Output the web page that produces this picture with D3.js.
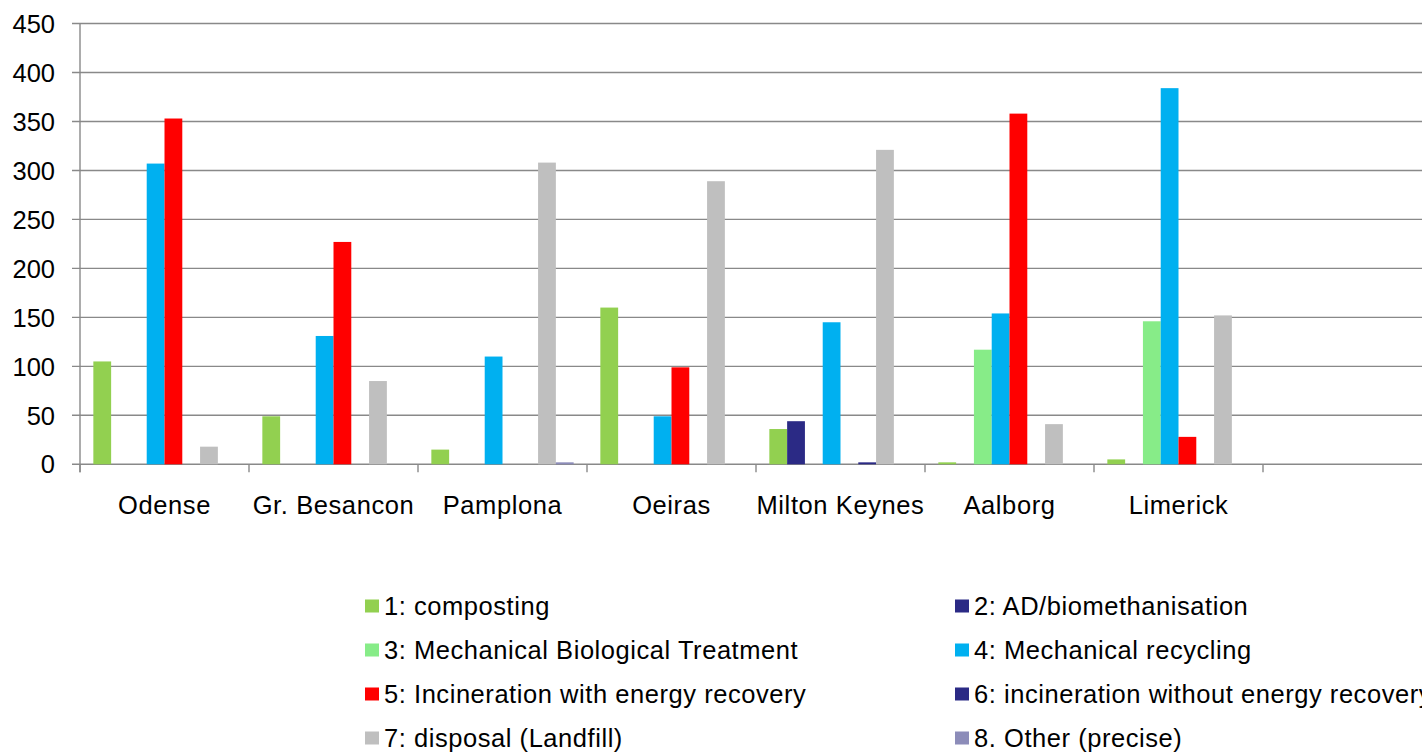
<!DOCTYPE html>
<html><head><meta charset="utf-8">
<script src="https://cdn.jsdelivr.net/npm/d3@7"></script>
<style>
html,body{margin:0;padding:0;background:#fff;overflow:hidden;}
text{font-family:"Liberation Sans",Arial,sans-serif;fill:#000;}
</style></head>
<body><svg id="c" width="1422" height="752"></svg>
<script>
const categories = ["Odense","Gr. Besancon","Pamplona","Oeiras","Milton Keynes","Aalborg","Limerick",""];
const seriesNames = ["1: composting","2: AD/biomethanisation","3: Mechanical Biological Treatment","4: Mechanical recycling","5: Incineration with energy recovery","6: incineration without energy recovery","7: disposal (Landfill)","8. Other (precise)"];
const seriesColors = ["#92D050","#2B2A85","#87EC88","#00B0F0","#FF0000","#2B2A85","#BFBFBF","#8C8CB9"];
const composting   = [105, 49, 15, 160, 36,   2,   5, 0];
const adBiometh    = [0,   0,  0,  0,   44,   0,   0, 0];
const mbt          = [0,   0,  0,  0,   0,  117, 146, 0];
const mechRecyc    = [307, 131, 110, 49, 145, 154, 384, 0];
const incinEnergy  = [353, 227, 0,  99,  0,  358,  28, 0];
const incinNoEnergy= [0,   0,  0,  0,   2,    0,   0, 0];
const landfill     = [18,  85, 308, 289, 321, 41, 152, 0];
const other        = [0,   0,  2,  0,   0,    0,   0, 0];
const yTicks = [0,50,100,150,200,250,300,350,400,450];

const seriesValues = [composting, adBiometh, mbt, mechRecyc, incinEnergy, incinNoEnergy, landfill, other];

(function(){
const svg = d3.select("#c");
const pL = 80, pR = 1432, pT = 23.5, pB = 464.3;
const x = d3.scaleBand().domain(categories.map((c,i)=>i)).range([pL,pR]).padding(0);
const xs = d3.scaleBand().domain(d3.range(seriesNames.length)).range([0,x.bandwidth()]).paddingInner(0).paddingOuter(0.75);
const y = d3.scaleLinear().domain([0,450]).range([pB,pT]);

svg.append("g").selectAll("line").data(yTicks).join("line")
  .attr("x1",pL-8).attr("x2",pR).attr("y1",d=>y(d)).attr("y2",d=>y(d))
  .attr("stroke","#898989").attr("stroke-width",1.4);

svg.append("line").attr("x1",pL).attr("x2",pL).attr("y1",pT).attr("y2",pB+8)
  .attr("stroke","#898989").attr("stroke-width",1.4);

svg.append("g").selectAll("line").data(d3.range(categories.length+1)).join("line")
  .attr("x1",i=>pL+i*x.step()).attr("x2",i=>pL+i*x.step())
  .attr("y1",pB).attr("y2",pB+8)
  .attr("stroke","#898989").attr("stroke-width",1.4);

svg.append("g").selectAll("text").data(yTicks).join("text")
  .attr("x",55).attr("y",d=>y(d)).attr("dy","0.36em").attr("text-anchor","end")
  .attr("font-size",25.5).text(d=>d);

seriesValues.forEach((vals,si)=>{
  svg.append("g").selectAll("rect").data(vals.map((v,ci)=>({v,ci})).filter(d=>d.v>0)).join("rect")
    .attr("x",d=>x(d.ci)+xs(si)).attr("width",xs.bandwidth())
    .attr("y",d=>y(d.v)).attr("height",d=>y(0)-y(d.v))
    .attr("fill",seriesColors[si]);
});

svg.append("g").selectAll("text").data(categories).join("text")
  .attr("x",(d,i)=>x(i)+x.bandwidth()/2).attr("y",514).attr("text-anchor","middle")
  .attr("font-size",25.5).attr("letter-spacing","0.6px").text(d=>d);

const lg = svg.append("g");
seriesNames.forEach((n,i)=>{
  const col = i%2, row = Math.floor(i/2);
  const sx = col===0 ? 365 : 955;
  const by = 614.5 + row*44;
  lg.append("rect").attr("x",sx).attr("y",by-15).attr("width",14).attr("height",13).attr("fill",seriesColors[i]);
  lg.append("text").attr("x",sx+19).attr("y",by).attr("font-size",25.5).attr("letter-spacing","0.55px").text(n);
});
})();
</script></body></html>
